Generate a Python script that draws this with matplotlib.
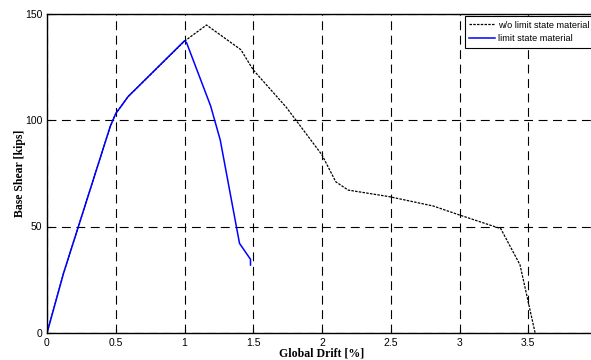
import matplotlib
matplotlib.use("Agg")
import matplotlib.pyplot as plt

# pushover curves
drift_wo = [0, 0.12, 0.46, 0.5, 0.59, 1.0, 1.16, 1.41, 1.5, 1.74, 2.0, 2.1, 2.19, 2.49, 2.81, 3.0, 3.3, 3.44, 3.55]
shear_wo = [0, 28, 97, 103, 111, 137, 144.6, 133, 123.5, 106, 83.6, 71, 67.1, 64, 59.6, 55.4, 49, 32, 0]

drift_ls = [0, 0.12, 0.46, 0.5, 0.59, 1.0, 1.015, 1.19, 1.26, 1.4, 1.48, 1.48]
shear_ls = [0, 28, 97, 103, 111, 137.2, 136.3, 106.6, 90.6, 42.1, 34.6, 31.9]

xticks = [0, 0.5, 1, 1.5, 2, 2.5, 3, 3.5]
yticks = [0, 50, 100, 150]

fig = plt.figure(figsize=(5.91, 3.6), dpi=100)
ax = fig.add_axes([47/591, 27/360, 550/591, 319.5/360])

ax.plot(drift_wo, shear_wo, color="black", linestyle=(0, (2, 1)), linewidth=0.9, label="w/o limit state material")
ax.plot(drift_ls, shear_ls, color="#0000ff", linewidth=1.1, label="limit state material")

ax.set_xlim(0, 4)
ax.set_ylim(0, 150)
ax.set_xticks(xticks)
ax.set_xticklabels([f"{t:g}" for t in xticks])
ax.set_yticks(yticks)
ax.tick_params(direction="in", length=3, labelsize=7.5, width=0.8)
for lab in ax.get_xticklabels() + ax.get_yticklabels():
    lab.set_family("Liberation Sans")
ax.grid(True, color="black", linestyle=(0, (8, 5)), linewidth=0.8)
for s in ax.spines.values():
    s.set_linewidth(1.0)

ax.set_xlabel("Global Drift [%]", family="Liberation Serif", fontweight="bold", fontsize=8.5, labelpad=0)
ax.set_ylabel("Base Shear [kips]", family="Liberation Serif", fontweight="bold", fontsize=8.5, labelpad=-1)

leg = ax.legend(loc="upper right", bbox_to_anchor=(594/591, 344/360), bbox_transform=fig.transFigure,
                prop={"family": "Liberation Sans", "size": 6.6}, fancybox=False, edgecolor="black",
                framealpha=1, handlelength=2.8, handletextpad=0.3, borderpad=0.5, labelspacing=0.5,
                borderaxespad=0)
leg.get_frame().set_linewidth(0.8)

fig.savefig("out.png", dpi=100)
